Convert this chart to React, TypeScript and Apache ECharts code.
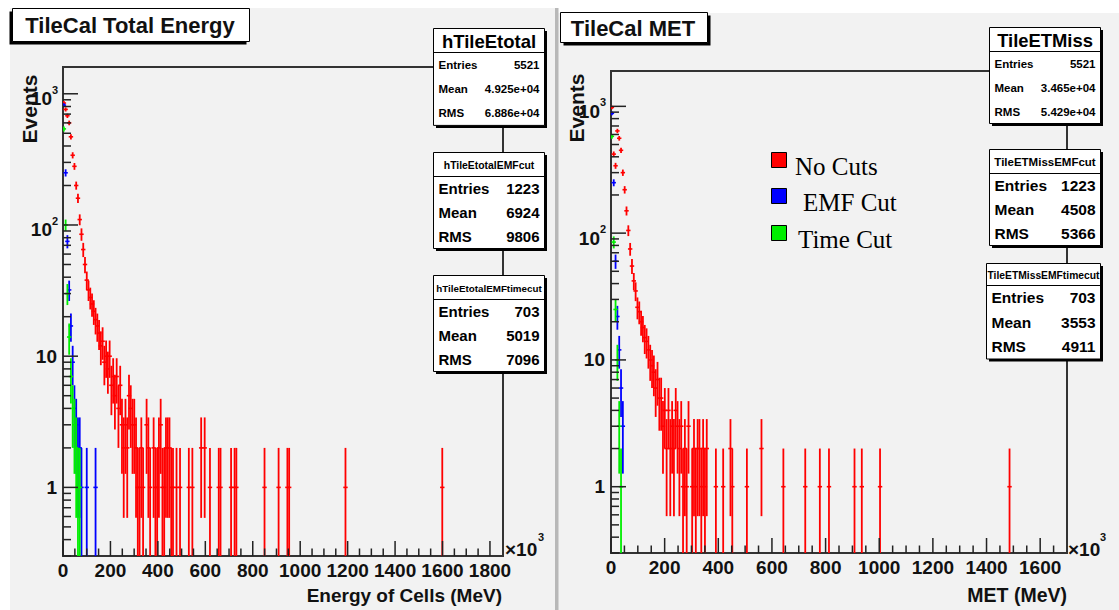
import React, { useEffect, useRef } from "react";
import * as echarts from "echarts";

// ---------------- data ----------------
const Y_MIN = 0.3;
const LEFT_X_MAX = 1855; // x10^3 MeV
const RIGHT_X_MAX = 1700;
const LEFT_Y_MAX = 1600;
const RIGHT_Y_MAX = 1900;
const N_BINS = 250;
const LEFT_BIN_WIDTH = LEFT_X_MAX / N_BINS;
const RIGHT_BIN_WIDTH = RIGHT_X_MAX / N_BINS;

// Total energy: counts per bin starting at bin 0
const leftNoCuts = [
  850, 760, 680, 600, 470, 340, 280, 200, 160, 110,
  85, 65, 50, 38, 32, 28, 25, 22, 19, 17,
  15, 12, 13, 9, 10, 8, 10, 6, 7, 5,
  7, 4, 6, 3, 2, 3, 2, 5, 4, 3,
  3, 2, 1, 1, 2, 1, 0, 3, 2, 1,
  0, 2, 1, 1, 2, 3, 1, 1, 2, 2,
  2, 1, 1, 0, 1, 0, 1,
];
// sparse tail: [energy (x10^3 MeV), count]
const leftNoCutsTail = [
  [531, 1], [547, 1], [580, 2], [594, 2], [620, 1], [655, 1], [662, 1],
  [711, 1], [721, 1], [732, 1], [852, 1], [912, 1], [947, 1], [955, 1],
  [1193, 1], [1602, 1],
];
const leftEmfCut = [820, 250, 75, 32, 17, 9, 4, 3, 2, 2, 1, 0, 0, 1, 0, 0, 0, 0, 1];
const leftTimeCut = [540, 100, 30, 14, 7, 4, 3, 2, 1, 1];

// MET
const rightNoCuts = [
  980, 420, 340, 640, 560, 450, 300, 220, 150, 105,
  75, 55, 42, 35, 26, 24, 20, 18, 15, 14,
  12, 10, 9, 8, 6, 7, 5, 5, 3, 4,
  2, 4, 2, 3, 2, 4, 3, 2, 3, 1,
  2, 1, 3,
];
const rightNoCutsTail = [
  [302, 1], [309, 2], [316, 1], [323, 2], [330, 2], [337, 1], [343, 2],
  [350, 1], [357, 2], [388, 1], [418, 1], [444, 2], [451, 1], [507, 1],
  [563, 2], [642, 1], [724, 1], [776, 1], [813, 1], [910, 1], [933, 1],
  [1004, 1], [1489, 1],
];
const rightEmfCut = [880, 250, 60, 22, 12, 6, 3];
const rightTimeCut = [580, 85, 25, 10, 3, 1];

const leftXTickLabels = [0, 200, 400, 600, 800, 1000, 1200, 1400, 1600, 1800];
const rightXTickLabels = [0, 200, 400, 600, 800, 1000, 1200, 1400, 1600];
const yTickLabels = [1, 10, 100, 1000];

const leftStats = [
  { title: "hTileEtotal", rows: [["Entries", "5521"], ["Mean", "4.925e+04"], ["RMS", "6.886e+04"]] },
  { title: "hTileEtotalEMFcut", rows: [["Entries", "1223"], ["Mean", "6924"], ["RMS", "9806"]] },
  { title: "hTileEtotalEMFtimecut", rows: [["Entries", "703"], ["Mean", "5019"], ["RMS", "7096"]] },
];
const rightStats = [
  { title: "TileETMiss", rows: [["Entries", "5521"], ["Mean", "3.465e+04"], ["RMS", "5.429e+04"]] },
  { title: "TileETMissEMFcut", rows: [["Entries", "1223"], ["Mean", "4508"], ["RMS", "5366"]] },
  { title: "TileETMissEMFtimecut", rows: [["Entries", "703"], ["Mean", "3553"], ["RMS", "4911"]] },
];
const legendLabels = ["No Cuts", "EMF Cut", "Time Cut"];

// ---------------- styling ----------------
const RED = "#ff0000";
const BLUE = "#0000ff";
const GREEN = "#00ee00";
const AXIS = "#222";
const SANS = '"Liberation Sans", Arial, Helvetica, sans-serif';
const SERIF = '"Liberation Serif", "Times New Roman", serif';

function toPoints(dense: number[], tail: number[][], w: number) {
  const pts: number[][] = [];
  dense.forEach((c, i) => {
    if (c > 0) pts.push([(i + 0.5) * w, c]);
  });
  tail.forEach(([g, c]) => {
    const idx = Math.floor(g / w);
    pts.push([(idx + 0.5) * w, c]);
  });
  return pts;
}

function errorSeries(gi: number, data: number[][], color: string) {
  return {
    type: "custom",
    xAxisIndex: gi,
    yAxisIndex: gi,
    clip: true,
    silent: true,
    z: 2,
    data,
    encode: { x: 0, y: 1 },
    renderItem: (_p: any, api: any) => {
      const x = api.value(0);
      const n = api.value(1);
      const e = Math.sqrt(n);
      const lo = Math.max(n - e, Y_MIN);
      const hi = n + e;
      const a = api.coord([x, lo]);
      const b = api.coord([x, hi]);
      const c = api.coord([x, n]);
      return {
        type: "group",
        children: [
          { type: "line", shape: { x1: a[0], y1: a[1], x2: b[0], y2: b[1] }, style: { stroke: color, lineWidth: 1.8 } },
          { type: "line", shape: { x1: c[0] - 2.2, y1: c[1], x2: c[0] + 2.2, y2: c[1] }, style: { stroke: color, lineWidth: 1.6 } },
        ],
      };
    },
  };
}

function labelText(text: string, x: number, y: number, align: string, size = 19) {
  return {
    type: "text",
    x,
    y,
    style: { text, fill: "#111", fontSize: size, fontWeight: "bold", fontFamily: SANS, align, verticalAlign: "middle" },
  };
}

function xTickSeries(gi: number, max: number, labels: number[]) {
  const data: number[][] = [];
  for (let i = 0; i * 50 <= max - 10; i++) {
    const v = i * 50;
    data.push([v, Y_MIN, labels.indexOf(v) >= 0 ? 1 : 0]);
  }
  return {
    type: "custom",
    xAxisIndex: gi,
    yAxisIndex: gi,
    silent: true,
    z: 5,
    data,
    encode: { x: 0, y: 1 },
    renderItem: (_p: any, api: any) => {
      const v = api.value(0);
      const major = api.value(2) === 1;
      const p = api.coord([v, Y_MIN]);
      const len = major ? 15 : 7.5;
      const children: any[] = [
        { type: "line", shape: { x1: p[0], y1: p[1], x2: p[0], y2: p[1] - len }, style: { stroke: AXIS, lineWidth: 1.5 } },
      ];
      if (major) children.push(labelText(String(v), p[0], p[1] + 14, "center"));
      return { type: "group", children };
    },
  };
}

function yTickSeries(gi: number, max: number) {
  const data: number[][] = [];
  [0.1, 1, 10, 100, 1000].forEach((base) => {
    for (let k = 1; k <= 9; k++) {
      const v = k * base;
      if (v >= Y_MIN - 1e-9 && v <= max) data.push([0, v, yTickLabels.indexOf(Math.round(v * 10) / 10) >= 0 ? 1 : 0]);
    }
  });
  return {
    type: "custom",
    xAxisIndex: gi,
    yAxisIndex: gi,
    silent: true,
    z: 5,
    data,
    encode: { x: 0, y: 1 },
    renderItem: (_p: any, api: any) => {
      const v = api.value(1);
      const major = api.value(2) === 1;
      const p = api.coord([0, v]);
      const len = major ? 15 : 8;
      const children: any[] = [
        { type: "line", shape: { x1: p[0], y1: p[1], x2: p[0] + len, y2: p[1] }, style: { stroke: AXIS, lineWidth: 1.5 } },
      ];
      if (major) {
        const exp = Math.round(Math.log10(v));
        if (exp <= 1) {
          children.push(labelText(String(Math.round(v)), p[0] - 6, p[1], "right"));
        } else {
          children.push(labelText("10", p[0] - 11, p[1] + 5, "right"));
          children.push(labelText(String(exp), p[0] - 11, p[1] - 4, "left", 11));
        }
      }
      return { type: "group", children };
    },
  };
}

function statBox(x: number, y: number, w: number, titleH: number, rowH: number, title: string, titleSize: number, rows: string[][], rowSize: number) {
  const h = titleH + rowH * 3;
  const els: any[] = [
    { type: "rect", z: 20, shape: { x: x + 2.5, y: y + 2.5, width: w, height: h }, style: { fill: "#000" } },
    { type: "rect", z: 21, shape: { x, y, width: w, height: h }, style: { fill: "#fff", stroke: "#000", lineWidth: 1 } },
    { type: "line", z: 22, shape: { x1: x, y1: y + titleH, x2: x + w, y2: y + titleH }, style: { stroke: "#000", lineWidth: 1 } },
    {
      type: "text", z: 22, x: x + w / 2, y: y + titleH / 2 + 0.5,
      style: { text: title, fill: "#000", fontSize: titleSize, fontWeight: "bold", fontFamily: SANS, align: "center", verticalAlign: "middle" },
    },
  ];
  rows.forEach((r, i) => {
    const cy = y + titleH + rowH * (i + 0.5);
    els.push({
      type: "text", z: 22, x: x + 5, y: cy,
      style: { text: r[0], fill: "#000", fontSize: rowSize, fontWeight: "bold", fontFamily: SANS, align: "left", verticalAlign: "middle" },
    });
    els.push({
      type: "text", z: 22, x: x + w - 5, y: cy,
      style: { text: r[1], fill: "#000", fontSize: rowSize, fontWeight: "bold", fontFamily: SANS, align: "right", verticalAlign: "middle" },
    });
  });
  return els;
}

function txt(text: string, x: number, y: number, size: number, align: string, extra: any = {}) {
  return {
    type: "text", z: 15, x, y, ...extra,
    style: { text, fill: "#111", fontSize: size, fontWeight: "bold", fontFamily: SANS, align, verticalAlign: "middle" },
  };
}

function buildOption() {
  const graphic: any[] = [
    // white margins and divider
    { type: "rect", z: -5, shape: { x: 0, y: 0, width: 1119, height: 8 }, style: { fill: "#fff" } },
    { type: "rect", z: -5, shape: { x: 555, y: 0, width: 564, height: 13 }, style: { fill: "#fff" } },
    { type: "rect", z: -5, shape: { x: 0, y: 0, width: 10, height: 610 }, style: { fill: "#fff" } },
    { type: "rect", z: -4, shape: { x: 555, y: 8, width: 3.5, height: 602 }, style: { fill: "#b8b8b8" } },
    // title boxes
    { type: "rect", z: 20, shape: { x: 9.5, y: 11.5, width: 237, height: 33 }, style: { fill: "#000" } },
    { type: "rect", z: 21, shape: { x: 12.5, y: 8.5, width: 237, height: 33 }, style: { fill: "#fff", stroke: "#000", lineWidth: 1 } },
    { type: "text", z: 22, x: 130, y: 25.5, style: { text: "TileCal Total Energy", fill: "#111", fontSize: 22, fontWeight: "bold", fontFamily: SANS, align: "center", verticalAlign: "middle" } },
    { type: "rect", z: 20, shape: { x: 563.5, y: 15.5, width: 147, height: 30 }, style: { fill: "#000" } },
    { type: "rect", z: 21, shape: { x: 560.5, y: 12.5, width: 147, height: 30 }, style: { fill: "#fff", stroke: "#000", lineWidth: 1 } },
    { type: "text", z: 22, x: 633, y: 28, style: { text: "TileCal MET", fill: "#111", fontSize: 22, fontWeight: "bold", fontFamily: SANS, align: "center", verticalAlign: "middle" } },
    // axis titles
    txt("Events", 29, 109, 21, "center", { rotation: Math.PI / 2 }),
    txt("Events", 576, 108, 21, "center", { rotation: Math.PI / 2 }),
    txt("Energy of Cells (MeV)", 502, 595, 19, "right"),
    txt("MET (MeV)", 1067, 595, 19.5, "right"),
    txt("\u00d710", 505, 549, 19, "left"),
    txt("3", 538, 537, 11, "left"),
    txt("\u00d710", 1068, 549, 19, "left"),
    txt("3", 1100, 537, 11, "left"),
  ];

  graphic.push(...statBox(433.5, 28.5, 111, 24, 24.3, leftStats[0].title, 18.5, leftStats[0].rows, 11.5));
  graphic.push(...statBox(433.5, 152.5, 111, 24, 24, leftStats[1].title, 10.4, leftStats[1].rows, 15));
  graphic.push(...statBox(433.5, 275.5, 111, 24, 24, leftStats[2].title, 9.8, leftStats[2].rows, 15));
  graphic.push(...statBox(989.5, 27.5, 111, 24, 24, rightStats[0].title, 18.4, rightStats[0].rows, 11.5));
  graphic.push(...statBox(989.5, 149.5, 111, 24, 24, rightStats[1].title, 11.5, rightStats[1].rows, 15.5));
  graphic.push(...statBox(986.5, 263.5, 114, 22, 24.5, rightStats[2].title, 10.3, rightStats[2].rows, 15.5));

  // legend
  const legendColors = [RED, BLUE, GREEN];
  const legendSquareY = [152, 188, 225];
  const legendTextX = [795, 803, 798];
  legendLabels.forEach((lab, i) => {
    graphic.push({ type: "rect", z: 15, shape: { x: 771.5, y: legendSquareY[i] + 0.5, width: 15, height: 15 }, style: { fill: legendColors[i], stroke: "#000", lineWidth: 1 } });
    graphic.push({
      type: "text", z: 15, x: legendTextX[i], y: legendSquareY[i] + 14,
      style: { text: lab, fill: "#000", fontSize: 25, fontFamily: SERIF, align: "left", verticalAlign: "middle" },
    });
  });

  return {
    animation: false,
    backgroundColor: "#f2f2f2",
    grid: [
      { left: 63, top: 67, width: 440, height: 489, show: true, borderColor: "#333", borderWidth: 2, backgroundColor: "transparent" },
      { left: 611, top: 71, width: 456, height: 482, show: true, borderColor: "#333", borderWidth: 2, backgroundColor: "transparent" },
    ],
    xAxis: [
      { type: "value", gridIndex: 0, min: 0, max: LEFT_X_MAX, show: false },
      { type: "value", gridIndex: 1, min: 0, max: RIGHT_X_MAX, show: false },
    ],
    yAxis: [
      { type: "log", logBase: 10, gridIndex: 0, min: Y_MIN, max: LEFT_Y_MAX, show: false },
      { type: "log", logBase: 10, gridIndex: 1, min: Y_MIN, max: RIGHT_Y_MAX, show: false },
    ],
    series: [
      errorSeries(0, toPoints(leftNoCuts, leftNoCutsTail, LEFT_BIN_WIDTH), RED),
      errorSeries(0, toPoints(leftEmfCut, [], LEFT_BIN_WIDTH), BLUE),
      errorSeries(0, toPoints(leftTimeCut, [], LEFT_BIN_WIDTH), GREEN),
      errorSeries(1, toPoints(rightNoCuts, rightNoCutsTail, RIGHT_BIN_WIDTH), RED),
      errorSeries(1, toPoints(rightEmfCut, [], RIGHT_BIN_WIDTH), BLUE),
      errorSeries(1, toPoints(rightTimeCut, [], RIGHT_BIN_WIDTH), GREEN),
      xTickSeries(0, LEFT_X_MAX, leftXTickLabels),
      xTickSeries(1, RIGHT_X_MAX, rightXTickLabels),
      yTickSeries(0, LEFT_Y_MAX),
      yTickSeries(1, RIGHT_Y_MAX),
    ],
    graphic,
  };
}

export default function App() {
  const ref = useRef<HTMLDivElement>(null);
  useEffect(() => {
    if (!ref.current) return;
    const chart = echarts.init(ref.current, undefined, { renderer: "svg" });
    chart.setOption(buildOption() as any);
    return () => chart.dispose();
  }, []);
  return <div ref={ref} style={{ position: "fixed", left: 0, top: 0, width: 1119, height: 610 }} />;
}
